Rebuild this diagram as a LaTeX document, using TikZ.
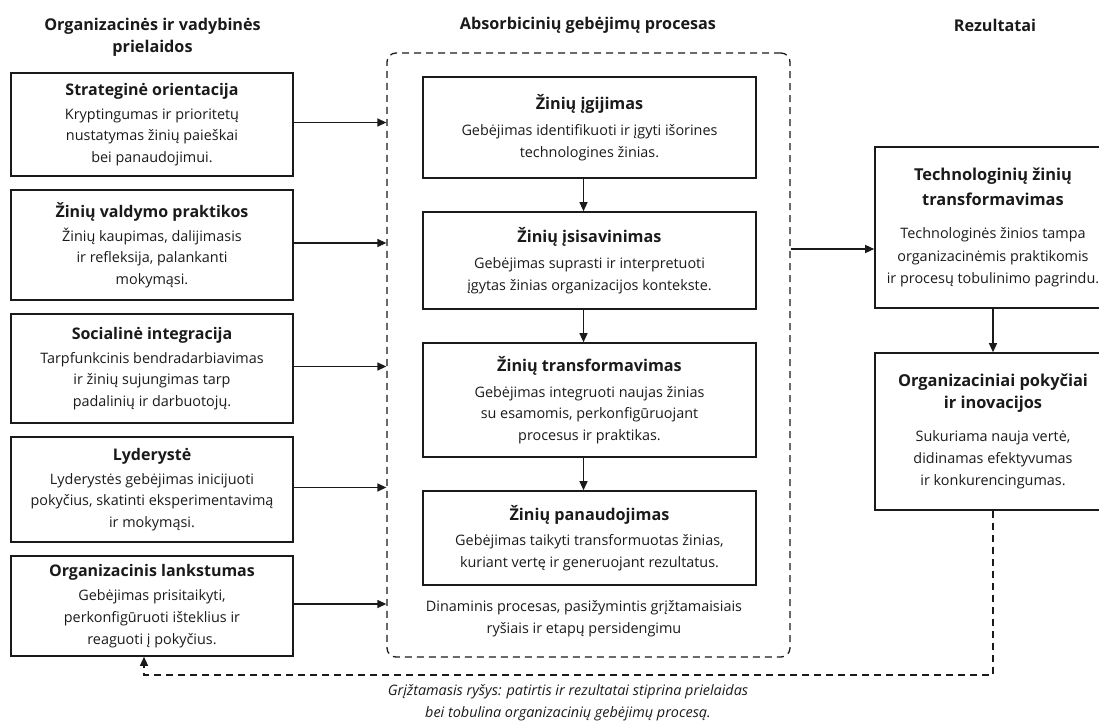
\documentclass[tikz,border=0pt]{standalone}
\usepackage{fontspec}
\setmainfont{Open Sans}
\usetikzlibrary{arrows.meta}
\definecolor{ink}{HTML}{1A1A1A}
% type sizes (1pt = 1px of the final picture)
\newcommand\bodytxt{\fontsize{14.4}{21.6}\selectfont}
\newcommand\restxt{\fontsize{14.4}{22.4}\selectfont}
\newcommand\hdtxt{\bfseries\fontsize{16.2}{22}\selectfont}
\newcommand\lttl[1]{{\bfseries\fontsize{16}{21.6}\selectfont #1}}
\newcommand\mttl[1]{{\bfseries\fontsize{16.2}{21.6}\selectfont #1}}
\newcommand\rttl[1]{{\bfseries\fontsize{16.4}{22}\selectfont #1}}
\begin{document}
\begin{tikzpicture}[x=1pt,y=-1pt,
  every node/.style={text=ink},
  framebox/.style={draw=ink, line width=1.6pt, align=center, inner sep=0pt, font=\bodytxt},
  leftbox/.style={framebox, minimum width=282pt},
  midbox/.style={framebox, minimum width=333pt},
  resbox/.style={framebox, minimum width=236pt, font=\restxt},
  header/.style={align=center, font=\hdtxt, inner sep=0pt},
  arr/.style={draw=ink, line width=1.3pt, -{Triangle[length=9pt,width=8pt]}},
  dashline/.style={draw=ink, line width=1.3pt, dash pattern=on 7pt off 5pt},
]
\useasboundingbox (0,0) rectangle (1099,722);
\clip (0,0) rectangle (1099,722);

% column headings
\node[header] (hleft) at (152.5,37.5) {Organizacinės ir vadybinės\\prielaidos};
\node[header] (hmid) at (588,25) {Absorbicinių gebėjimų procesas};
\node[header] (hright) at (995,25) {Rezultatai};

% preconditions
\node[leftbox, minimum height=103pt] (b1) at (152,124.5)
  {\lttl{Strateginė orientacija}\\[2.5pt]Kryptingumas ir prioritetų\\nustatymas žinių paieškai\\bei panaudojimui.};
\node[leftbox, minimum height=110pt] (b2) at (152,245)
  {\lttl{Žinių valdymo praktikos}\\[2.5pt]Žinių kaupimas, dalijimasis\\ir refleksija, palankanti\\mokymąsi.};
\node[leftbox, minimum height=109pt] (b3) at (152,368.5)
  {\lttl{Socialinė integracija}\\[2.5pt]Tarpfunkcinis bendradarbiavimas\\ir žinių sujungimas tarp\\padalinių ir darbuotojų.};
\node[leftbox, minimum height=105pt] (b4) at (152,489.5)
  {\lttl{Lyderystė}\\[2.5pt]Lyderystės gebėjimas inicijuoti\\pokyčius, skatinti eksperimentavimą\\ir mokymąsi.};
\node[leftbox, minimum height=100pt] (b5) at (152,606)
  {\lttl{Organizacinis lankstumas}\\[2.5pt]Gebėjimas prisitaikyti,\\perkonfigūruoti išteklius ir\\reaguoti į pokyčius.};

% absorptive capacity process
\node[draw=ink, line width=1.3pt, dash pattern=on 7pt off 5pt, rounded corners=9pt,
      minimum width=403pt, minimum height=604pt, inner sep=0pt] (proc) at (588.5,355) {};

\node[midbox, minimum height=101pt] (m1) at (589.5,127.5)
  {\mttl{Žinių įgijimas}\\[5pt]Gebėjimas identifikuoti ir įgyti išorines\\technologines žinias.};
\node[midbox, minimum height=97pt] (m2) at (589.5,260.5)
  {\mttl{Žinių įsisavinimas}\\[5pt]Gebėjimas suprasti ir interpretuoti\\įgytas žinias organizacijos kontekste.};
\node[midbox, minimum height=114pt] (m3) at (589.5,400)
  {\mttl{Žinių transformavimas}\\[4pt]Gebėjimas integruoti naujas žinias\\su esamomis, perkonfigūruojant\\procesus ir praktikas.};
\node[midbox, minimum height=94pt] (m4) at (589.5,538)
  {\mttl{Žinių panaudojimas}\\[4pt]Gebėjimas taikyti transformuotas žinias,\\kuriant vertę ir generuojant rezultatus.};

\node[align=center, font=\bodytxt, inner sep=0pt] (dyn) at (584,619)
  {Dinaminis procesas, pasižymintis grįžtamaisiais\\ryšiais ir etapų persidengimu};

% outcomes
\node[resbox, minimum height=161pt] (r1) at (993,227.5)
  {\rttl{Technologinių žinių}\\[2.5pt]\rttl{transformavimas}\\[11pt]Technologinės žinios tampa\\organizacinėmis praktikomis\\ir procesų tobulinimo pagrindu.};
\node[resbox, minimum height=157pt] (r2) at (993,431.5)
  {\rttl{Organizaciniai pokyčiai}\\\rttl{ir inovacijos}\\[10pt]Sukuriama nauja vertė,\\didinamas efektyvumas\\ir konkurencingumas.};

% feedback caption
\node[align=center, font={\itshape\bodytxt}, inner sep=0pt] (fbtext) at (568,703)
  {Grįžtamasis ryšys: patirtis ir rezultatai stiprina prielaidas\\bei tobulina organizacinių gebėjimų procesą.};

% inputs into the process
\foreach \b in {b1,b2,b3,b4,b5}
  \draw[arr] ([yshift=2pt]\b.east) -- ([yshift=2pt]\b.east -| proc.west);

% stage sequence
\draw[arr] ([xshift=-6pt]m1.south) -- ([xshift=-6pt]m2.north);
\draw[arr] ([xshift=-6pt]m2.south) -- ([xshift=-6pt]m3.north);
\draw[arr] ([xshift=-6pt]m3.south) -- ([xshift=-6pt]m4.north);

% process to outcomes
\coordinate (rin) at ([yshift=-21.5pt]r1.west);
\draw[arr] (proc.east |- rin) -- (rin);
\draw[arr] (r1.south) -- (r2.north);

% feedback loop
\coordinate (fbturn) at (144,675);
\draw[dashline] (r2.south) |- (fbturn) -- (fbturn |- b5.south);
\draw[arr] (fbturn |- 0,666) -- (fbturn |- b5.south);
\end{tikzpicture}
\end{document}
